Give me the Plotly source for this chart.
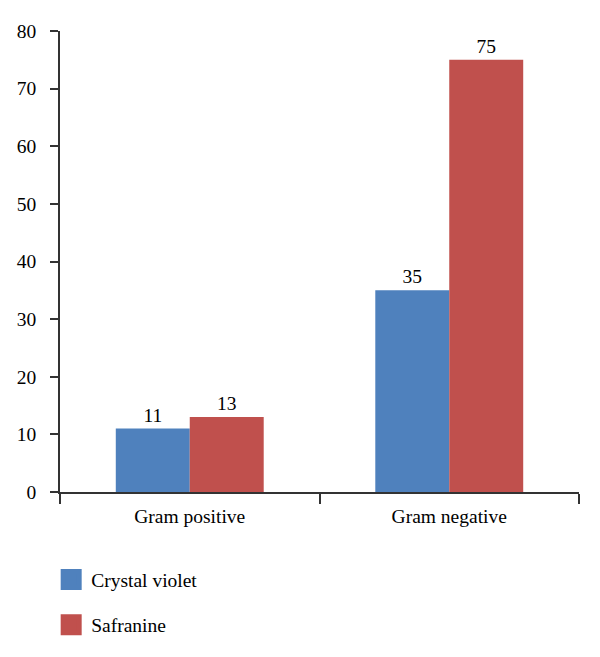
import plotly.graph_objects as go

categories = ["Gram positive", "Gram negative"]
crystal_violet = [11, 35]
safranine = [13, 75]
y_ticks = [0, 10, 20, 30, 40, 50, 60, 70, 80]

BLUE = "#4F81BD"
RED = "#C0504D"
FONT = "Liberation Serif"
FS = 19.5

fig = go.Figure()
fig.add_trace(go.Bar(x=categories, y=crystal_violet, name="Crystal violet",
                     marker=dict(color=BLUE, line=dict(width=0)),
                     text=crystal_violet, textposition="outside",
                     textfont=dict(family=FONT, size=FS, color="black"),
                     cliponaxis=False, showlegend=False))
fig.add_trace(go.Bar(x=categories, y=safranine, name="Safranine",
                     marker=dict(color=RED, line=dict(width=0)),
                     text=safranine, textposition="outside",
                     textfont=dict(family=FONT, size=FS, color="black"),
                     cliponaxis=False, showlegend=False))
# legend entries with larger square symbols
fig.add_trace(go.Scatter(x=[None], y=[None], mode="markers", name="Crystal violet",
                         marker=dict(symbol="square", size=18, color=BLUE,
                                     line=dict(color=BLUE, width=5)),
                         legendgroup="a"))
fig.add_trace(go.Scatter(x=[None], y=[None], mode="markers", name="Safranine",
                         marker=dict(symbol="square", size=18, color=RED,
                                     line=dict(color=RED, width=5)),
                         legendgroup="b"))

fig.update_layout(
    width=600, height=657,
    margin=dict(l=60, r=21, t=31, b=165, autoexpand=False),
    paper_bgcolor="white", plot_bgcolor="white",
    barmode="group", bargap=0.43, bargroupgap=0,
    font=dict(family=FONT, size=FS, color="black"),
    showlegend=True,
    legend=dict(x=-0.017, xanchor="left", y=-0.148, yanchor="top",
                orientation="v", tracegroupgap=17,
                font=dict(family=FONT, size=FS, color="black"),
                bgcolor="rgba(0,0,0,0)"),
)
fig.update_xaxes(showline=True, linecolor="#333333", linewidth=1.5,
                 ticks="outside", tickson="boundaries", ticklen=10,
                 tickcolor="#333333", tickwidth=1.5,
                 showgrid=False, zeroline=False, ticklabelstandoff=6,
                 tickfont=dict(family=FONT, size=FS, color="black"))
fig.update_yaxes(range=[0, 80], tickvals=y_ticks, showline=True,
                 linecolor="#333333", linewidth=1.5,
                 ticks="outside", ticklen=8, tickcolor="#333333", tickwidth=1.5,
                 showgrid=False, zeroline=False, ticklabelstandoff=10,
                 tickfont=dict(family=FONT, size=FS, color="black"))

fig.write_html("out.html", config={"displayModeBar": False},
               post_script="document.body.style.margin='0';")
